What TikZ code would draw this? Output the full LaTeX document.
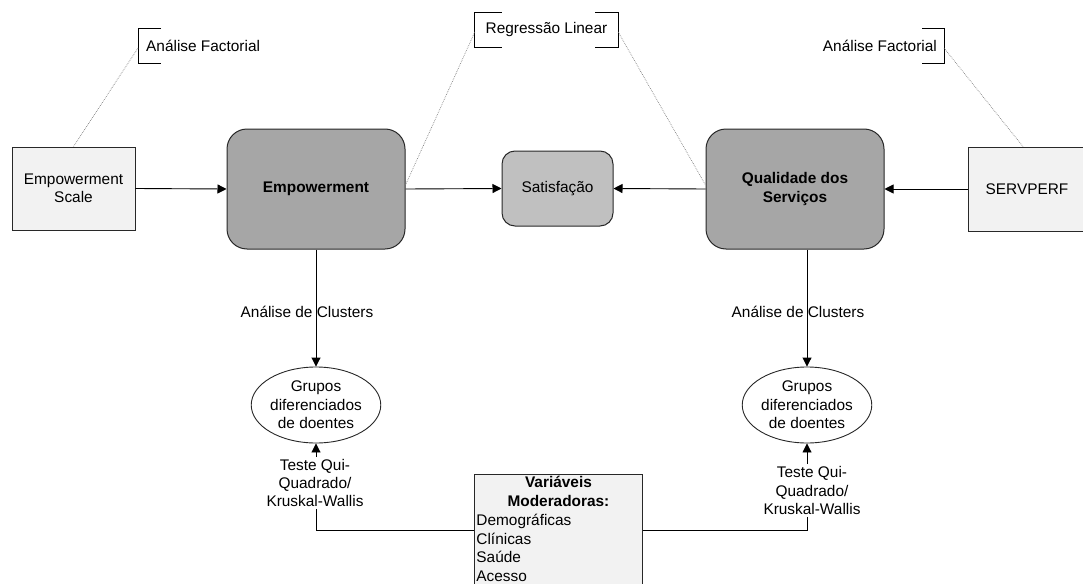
\documentclass[tikz,border=0pt]{standalone}
\usepackage{fontspec}
\setmainfont{Liberation Sans}
\usetikzlibrary{arrows.meta,shapes.geometric}
\definecolor{lightfill}{RGB}{242,242,242}
\definecolor{darkfill}{RGB}{166,166,166}
\definecolor{midfill}{RGB}{192,192,192}
\definecolor{edge}{RGB}{40,40,40}
\begin{document}
\begin{tikzpicture}[x=1pt,y=-1pt,
  font=\fontsize{15.4}{18.5}\selectfont,
  lightbox/.style={draw=edge, line width=0.9pt, fill=lightfill, inner sep=0pt, align=center},
  mainbox/.style={draw=edge, line width=1pt, fill=darkfill, rounded corners=20pt,
    minimum width=178, minimum height=120, inner sep=0pt, align=center, font=\fontsize{15.4}{18.5}\selectfont\bfseries},
  satbox/.style={draw=edge, line width=1pt, fill=midfill, rounded corners=13pt,
    minimum width=111, minimum height=75, inner sep=0pt, align=center},
  groupnode/.style={draw=edge, line width=0.9pt, ellipse, minimum width=111, minimum height=76,
    inner sep=0pt, align=center},
  note/.style={inner ysep=0pt, minimum height=34},
  plainlabel/.style={inner sep=2pt, align=center},
  arr/.style={draw=black, line width=0.9pt, -{Triangle[length=9pt,width=9pt]}},
  conn/.style={draw=black, line width=0.9pt},
  bracket/.style={draw=black, line width=0.9pt},
  dots/.style={draw=gray, line width=0.7pt, dash pattern=on 0.7pt off 1.1pt}]

\clip (0,0) rectangle (1083,583);
\fill[white] (0,0) rectangle (1083,583);

% main boxes
\node[lightbox, minimum width=123, minimum height=83] (scale) at (73.5,188.5) {Empowerment\\Scale};
\node[mainbox] (emp) at (316,189) {Empowerment};
\node[satbox] (sat) at (557.5,188.5) {Satisfação};
\node[mainbox] (qual) at (795,189) {Qualidade dos\\Serviços};
\node[lightbox, minimum width=118, minimum height=84] (serv) at (1027,189) {SERVPERF};

% method notes with brackets
\node[note, anchor=west, inner xsep=8pt] (af1) at (138,46) {Análise Factorial};
\draw[bracket] ([xshift=23]af1.north west) -- (af1.north west) -- (af1.south west) -- ([xshift=23]af1.south west);

\node[note, minimum width=143, inner xsep=0pt] (rl) at (546.5,30) {Regressão Linear};
\draw[bracket] ([xshift=27]rl.north west) -- (rl.north west) -- (rl.south west) -- ([xshift=27]rl.south west);
\draw[bracket] ([xshift=-23]rl.north east) -- (rl.north east) -- (rl.south east) -- ([xshift=-23]rl.south east);

\node[note, anchor=east, inner xsep=7pt] (af2) at (944,46) {Análise Factorial};
\draw[bracket] ([xshift=-22]af2.north east) -- (af2.north east) -- (af2.south east) -- ([xshift=-22]af2.south east);

% dotted annotation leaders
\draw[dots] ([yshift=-2]af1.west) -- (scale.north);
\draw[dots] ([yshift=-2]rl.west) -- ([yshift=4]emp.east);
\draw[dots] ([yshift=-2]rl.east) -- ([yshift=4]qual.west);
\draw[dots] ([yshift=-2]af2.east) -- ([xshift=-4]serv.north);

% horizontal flows
\draw[arr] (scale.east) -- (emp.west);
\draw[arr] (emp.east) -- (sat.west);
\draw[arr] (qual.west) -- (sat.east);
\draw[arr] (serv.west) -- (qual.east);

% cluster groups
\node[groupnode] (g1) at (316,405) {Grupos\\diferenciados\\de doentes};
\node[groupnode] (g2) at (807,405) {Grupos\\diferenciados\\de doentes};

\draw[arr] (emp.south) -- (g1.north);
\draw[arr] (qual.south -| g2.north) -- (g2.north);
\node[plainlabel] (c1) at (307,312) {Análise de Clusters};
\node[plainlabel] (c2) at (798,312) {Análise de Clusters};

% tests
\node[plainlabel, font=\fontsize{15.4}{18}\selectfont] (t1) at (315,483) {Teste Qui-\\Quadrado/\\Kruskal-Wallis};
\node[plainlabel, font=\fontsize{15.4}{18.5}\selectfont] (t2) at (812,490.5) {Teste Qui-\\Quadrado/\\Kruskal-Wallis};

% moderating variables (box runs past the lower edge)
\node[lightbox, anchor=north west, text width=164, font=\fontsize{15.4}{18.8}\selectfont,
  inner xsep=2pt, inner ysep=2pt, align=left] (mod) at (474,474)
  {\makebox[\linewidth]{\textbf{Variáveis}}\\
   \makebox[\linewidth]{\textbf{Moderadoras:}}\\
   Demográficas\\Clínicas\\Saúde\\Acesso\\\strut};

\draw[arr] (g1.south |- t1.north) -- (g1.south);
\draw[arr] (g2.south |- t2.north) -- (g2.south);
\draw[conn] (g1.south |- t1.south) |- ([yshift=-56]mod.north west);
\draw[conn] (g2.south |- t2.south) |- ([yshift=-56]mod.north east);
\end{tikzpicture}
\end{document}
